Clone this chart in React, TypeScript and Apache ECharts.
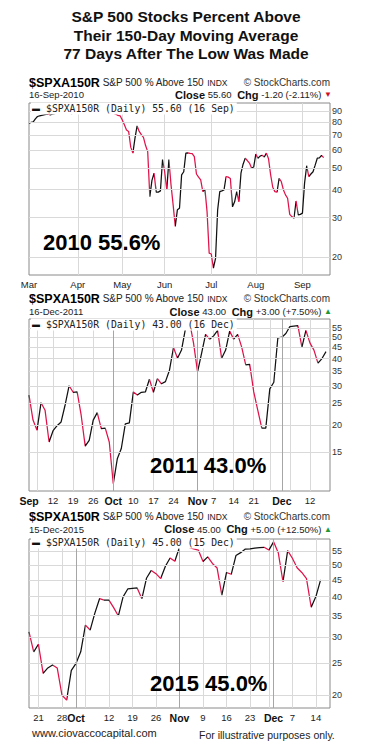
import React, { useEffect, useRef } from "react";
import * as echarts from "echarts";

// ---------- DATA ----------
const values2010 = [
  79.3, 80, 80.5, 83, 85, 85.5, 86, 86.5, 86.8, 87, 86.5, 87,
  87.5, 88, 88.5, 89, 89.5, 89, 88, 88.5, 87.5, 88, 88.5, 89, 89.5, 90, 90.5, 91, 90, 89.5,
  90, 90.5, 91, 90, 89, 88.5, 88, 88.5, 89, 88,
  87.7, 87, 86, 85.6, 82, 78, 74, 72.9, 62, 58.3,
  68, 77.1, 72.9, 70.5, 68.6, 63, 59.2, 37.2, 44, 47.4,
  39, 39, 39.5, 54.5, 48.1, 39.9, 54.5, 42, 34.2, 27.4,
  32.5, 33, 46.6, 48.1, 58.3, 58.5, 58.2, 58, 56.2, 47,
  45.5, 44.2, 39.2, 40.2, 31.9, 20.8, 20.6, 17.8, 19.7, 32.5,
  39.2, 39.5, 39.9, 45.8, 45.5, 44.9, 33.5, 35.3, 39.2, 35.3,
  47.4, 52, 55.3, 54, 52.6, 50, 50.5, 57.7, 55.3, 56.5,
  57, 56, 58.3, 55, 46.6, 41, 39.2, 39, 44.9, 43.5,
  40, 37.9, 36.6, 31, 30.3, 29.8, 35.6, 30.8, 31, 31.4,
  42.8, 51.2, 45.8, 47, 48.1, 51.5, 55.3, 55.5, 57, 55.6,
];
const values2011 = [
  27.3, 21, 18.9, 25.2, 23.3, 16.7, 18.8, 19.8, 20.6, 24.6,
  30.1, 28.1, 28.2, 22.1, 16, 17, 21, 22.7, 19.2, 19.3,
  16.7, 10.8, 14, 15.6, 20.2, 20.4, 28.2, 27.3, 28.1, 28.2,
  32.2, 28.1, 32.4, 30.7, 31.4, 35.4, 44.9, 40.1, 43.7, 54.8,
  58.8, 47, 34.8, 42.2, 51.5, 49, 50.7, 53.7, 40.1, 43.7,
  53.3, 49, 51.5, 45.1, 37.4, 37.6, 28.2, 23.3, 19.3, 19.3,
  29.1, 31.2, 49.6, 50, 52, 55.9, 56.2, 56.5, 45.1, 53.7,
  47.1, 43.7, 38.1, 40, 43,
];
const values2015 = [
  31.2, 27.1, 28.6, 23.3, 24.2, 24.7, 24.2, 20, 19.3, 23.8,
  25, 27.1, 32.7, 31.6, 35.6, 39.4, 39, 39, 37, 34.9,
  39.9, 42.2, 42.4, 42.5, 39.4, 45.6, 48.1, 47, 45.4, 49.5,
  52.5, 51.3, 56.6, 58, 56.6, 56, 55.5, 51.2, 52.9, 50.5,
  48.9, 40.4, 47.4, 46.8, 53.4, 54.5, 55.9, 56, 56.3, 56.5,
  56.6, 55.5, 58.8, 54.5, 44.4, 55.3, 52.4, 49, 47.4, 45.4,
  37.1, 40, 45,
];

// x tick labels: [label, trading-day index]
const xTicks2010: [string, number][] = [["Mar", 0], ["Apr", 23], ["May", 44], ["Jun", 64], ["Jul", 86], ["Aug", 107], ["Sep", 129]];
const xTicks2011: [string, number][] = [["Sep", 0], ["12", 6], ["19", 11], ["26", 16], ["Oct", 21], ["10", 26], ["17", 31], ["24", 36], ["Nov", 42], ["7", 46], ["14", 51], ["21", 56], ["Dec", 63], ["12", 70]];
const xTicks2015: [string, number][] = [["21", 2], ["28", 7], ["Oct", 10], ["12", 17], ["19", 22], ["26", 27], ["Nov", 32], ["9", 37], ["16", 42], ["23", 47], ["Dec", 52], ["7", 56], ["14", 61]];

const xGrid2010 = [23, 44, 64, 86, 107, 129];
const xGrid2011 = [2, 6, 11, 16, 26, 31, 36, 46, 51, 56, 60, 65, 70];
const xGrid2015 = [2, 7, 12, 17, 22, 27, 37, 42, 47, 51, 56, 61];
const monthLines2010: number[] = [];
const monthLines2011 = [21, 42, 63];
const monthLines2015 = [10, 32, 52];

const yTicks2010 = [20, 30, 40, 50, 60, 70, 80, 90];
const yTicks2011 = [15, 20, 25, 30, 35, 40, 45, 50, 55];
const yTicks2015 = [20, 25, 30, 35, 40, 45, 50, 55];

const titleLines = ["S&P 500 Stocks Percent Above", "Their 150-Day Moving Average", "77 Days After The Low Was Made"];

// ---------- STYLE ----------
const BLACK = "#111111";
const RED = "#e0124a";
const GRID_C = "#d9d9d9";
const MONTH_C = "#a6a6a6";
const FONT = "'Liberation Sans', Arial, sans-serif";
const MONO = "'DejaVu Sans Mono', 'Liberation Mono', monospace";
const MONTHS = new Set(["Jan", "Feb", "Mar", "Apr", "May", "Jun", "Jul", "Aug", "Sep", "Oct", "Nov", "Dec"]);

const PANELS = [
  {
    values: values2010, pad: 3, top: 103, height: 172, min: 16.6, max: 97.7,
    yTicks: yTicks2010, xTicks: xTicks2010, xGrid: xGrid2010, monthLines: monthLines2010, boldMonths: false,
    date: "16-Sep-2010", close: "55.60", chg: "-1.20 (-2.11%)", up: false, legend: "$SPXA150R (Daily) 55.60 (16 Sep)",
    label: "2010 55.6%", labelX: 43, labelY: 242, h1: 82.5, h2: 94.5, lg: 108.5,
  },
  {
    values: values2011, pad: 1, top: 319, height: 172, min: 10, max: 60.5,
    yTicks: yTicks2011, xTicks: xTicks2011, xGrid: xGrid2011, monthLines: monthLines2011, boldMonths: true,
    date: "16-Dec-2011", close: "43.00", chg: "+3.00 (+7.50%)", up: true, legend: "$SPXA150R (Daily) 43.00 (16 Dec)",
    label: "2011 43.0%", labelX: 150, labelY: 465, h1: 298.5, h2: 311.5, lg: 324.5,
  },
  {
    values: values2015, pad: 2, top: 539, height: 169, min: 18.25, max: 60,
    yTicks: yTicks2015, xTicks: xTicks2015, xGrid: xGrid2015, monthLines: monthLines2015, boldMonths: true,
    date: "15-Dec-2015", close: "45.00", chg: "+5.00 (+12.50%)", up: true, legend: "$SPXA150R (Daily) 45.00 (15 Dec)",
    label: "2015 45.0%", labelX: 150, labelY: 683, h1: 516.5, h2: 529, lg: 542.5,
  },
];

function txt(x: number, y: number, text: string, font: string, align = "left", extra: any = {}) {
  return {
    type: "text",
    x, y, z: 50,
    silent: true,
    style: {
      text, font, fill: "#111",
      textAlign: align, align, textVerticalAlign: "middle", verticalAlign: "middle",
      ...extra,
    },
  };
}

function buildOption() {
  const grid: any[] = [];
  const xAxis: any[] = [];
  const yAxis: any[] = [];
  const series: any[] = [];
  const visualMap: any[] = [];
  const graphic: any[] = [];

  titleLines.forEach((t, k) => {
    graphic.push(txt(186, 16.5 + k * 18.5, t, `bold 15.5px ${FONT}`, "center"));
  });

  PANELS.forEach((p, i) => {
    const n = p.values.length + p.pad;
    const cats = Array.from({ length: n }, (_, k) => String(k));
    const labelMap: Record<string, string> = {};
    p.xTicks.forEach(([lab, idx]) => { labelMap[String(idx)] = lab; });
    const gridSet = new Set(p.xGrid);

    grid.push({ left: 29, top: p.top, width: 301, height: p.height, show: true, borderColor: "#8a8a8a", borderWidth: 1, backgroundColor: "#fff" });
    xAxis.push({
      type: "category", gridIndex: i, data: cats, boundaryGap: false,
      axisLine: { show: false }, axisTick: { show: false },
      axisLabel: {
        interval: (idx: number) => labelMap[String(idx)] !== undefined,
        formatter: (v: string) => {
          const l = labelMap[v];
          if (l === undefined) return "";
          return p.boldMonths && MONTHS.has(l) ? `{b|${l}}` : `{n|${l}}`;
        },
        margin: 4,
        rich: {
          n: { fontSize: 9.5, color: "#222", fontFamily: FONT },
          b: { fontSize: 10.5, fontWeight: "bold", color: "#111", fontFamily: FONT },
        },
      },
      splitLine: { show: true, interval: (idx: number) => gridSet.has(idx), lineStyle: { color: GRID_C, width: 1 } },
    });
    yAxis.push({
      type: "log", logBase: 10, gridIndex: i, min: p.min, max: p.max,
      axisLabel: { show: false }, splitLine: { show: false }, axisLine: { show: false }, axisTick: { show: false },
    });

    // gridlines + y labels through markLine
    series.push({
      type: "line", xAxisIndex: i, yAxisIndex: i, data: [], silent: true, z: 1,
      markLine: {
        silent: true, symbol: ["none", "none"], animation: false,
        data: [
          ...p.yTicks.map((v) => ({
            yAxis: v,
            lineStyle: { color: GRID_C, type: "solid", width: 1 },
            label: { show: true, position: "end", formatter: String(v), distance: 2, color: "#333", fontSize: 9, lineHeight: 8, fontFamily: FONT },
          })),
          ...p.monthLines.map((idx) => ({
            xAxis: String(idx),
            lineStyle: { color: MONTH_C, type: "solid", width: 1 },
            label: { show: false },
          })),
        ],
      },
    });

    const seriesIndex = series.length;
    series.push({
      type: "line", xAxisIndex: i, yAxisIndex: i, data: p.values, symbol: "none", silent: true, z: 3,
      lineStyle: { width: 1.25 },
    });

    const pieces: any[] = [];
    for (let k = 0; k < p.values.length - 1; k++) {
      const c = p.values[k + 1] >= p.values[k] ? BLACK : RED;
      if (k === 0) pieces.push({ gte: 0, lte: 1, color: c });
      else pieces.push({ gt: k, lte: k + 1, color: c });
    }
    visualMap.push({ type: "piecewise", show: false, seriesIndex, dimension: 0, pieces, outOfRange: { color: BLACK } });

    // header
    graphic.push(txt(29, p.h1, "{a|$SPXA150R} {b|S&P 500 % Above 150} {c|INDX}", `10px ${FONT}`, "left", {
      rich: {
        a: { font: `bold 12.5px ${FONT}`, fill: "#000" },
        b: { font: `10px ${FONT}`, fill: "#222" },
        c: { font: `8.5px ${FONT}`, fill: "#222" },
      },
    }));
    graphic.push(txt(330, p.h1, "© StockCharts.com", `10px ${FONT}`, "right", { fill: "#333" }));
    graphic.push(txt(29, p.h2, p.date, `9.5px ${FONT}`, "left", { fill: "#222" }));
    graphic.push(txt(332, p.h2, `{b|Close} {n|${p.close}}  {b|Chg} {n|${p.chg}} {t|${p.up ? "▲" : "▼"}}`, `10px ${FONT}`, "right", {
      rich: {
        b: { font: `bold 11px ${FONT}`, fill: "#111" },
        n: { font: `9.5px ${FONT}`, fill: "#222" },
        t: { font: `8px ${FONT}`, fill: p.up ? "#1a9a3a" : "#d0102a" },
      },
    }));
    graphic.push(txt(31, p.lg, `{d|▬} {m|${p.legend}}`, `10px ${MONO}`, "left", {
      backgroundColor: "#fff",
      padding: [1, 2, 1, 1],
      rich: {
        d: { font: `8px ${FONT}`, fill: "#111" },
        m: { font: `9.8px ${MONO}`, fill: "#222" },
      },
    }));
    graphic.push(txt(p.labelX, p.labelY, p.label, `bold 22px ${FONT}`, "left", { fill: "#000" }));
  });

  graphic.push(txt(32, 733, "www.ciovaccocapital.com", `11px ${FONT}`, "left", { fill: "#222" }));
  graphic.push(txt(199, 735, "For illustrative purposes only.", `10.5px ${FONT}`, "left", { fill: "#222" }));

  return {
    animation: false,
    backgroundColor: "#fff",
    grid, xAxis, yAxis, series, visualMap, graphic,
  };
}

export default function App() {
  const ref = useRef<HTMLDivElement>(null);
  useEffect(() => {
    if (!ref.current) return;
    const chart = echarts.init(ref.current, undefined, { renderer: "svg" });
    chart.setOption(buildOption() as any);
    return () => chart.dispose();
  }, []);
  return (
    <div
      ref={ref}
      style={{ position: "absolute", left: 0, top: 0, width: 372, height: 752, background: "#fff" }}
    />
  );
}
